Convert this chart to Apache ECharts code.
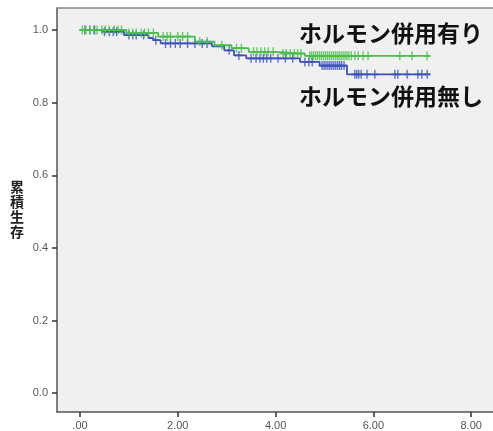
<!DOCTYPE html>
<html>
<head>
<meta charset="utf-8">
<script src="https://cdn.jsdelivr.net/npm/echarts@6/dist/echarts.min.js"></script>
<style>html,body{margin:0;padding:0;background:#fff}#c{width:493px;height:431px}</style>
</head>
<body>
<div id="c"></div>
<script>
// Kaplan-Meier step points [time, survival]
const withHormoneSteps = [[0,1.0],[0.95,0.992],[1.6,0.982],[2.35,0.968],[2.75,0.958],[3.1,0.950],[3.45,0.940],[4.0,0.935],[4.6,0.929],[7.16,0.929]];
const withoutHormoneSteps = [[0,1.0],[0.4,0.995],[0.9,0.986],[1.4,0.978],[1.5,0.972],[1.65,0.963],[2.7,0.955],[2.95,0.944],[3.15,0.930],[3.4,0.922],[4.5,0.912],[4.9,0.902],[5.46,0.878],[7.16,0.878]];
// censor times
const withHormoneCensor = [0.05,0.12,0.2,0.28,0.35,0.45,0.52,0.6,0.7,0.78,0.85,1.0,1.08,1.15,1.25,1.32,1.4,1.5,1.7,1.78,1.85,2.0,2.1,2.2,2.45,2.6,2.9,3.2,3.3,3.55,3.62,3.7,3.78,3.85,3.95,4.15,4.22,4.3,4.38,4.45,4.52,4.7,4.74,4.78,4.82,4.86,4.9,4.94,4.98,5.02,5.06,5.1,5.14,5.18,5.22,5.26,5.3,5.34,5.38,5.42,5.46,5.5,5.55,5.62,5.69,5.79,5.89,6.54,6.79,7.10];
const withoutHormoneCensor = [0.1,0.2,0.3,0.5,0.6,0.68,0.75,1.0,1.08,1.15,1.3,1.55,1.75,1.85,1.95,2.05,2.2,2.35,2.5,2.6,3.05,3.25,3.5,3.6,3.68,3.75,3.82,3.9,4.05,4.2,4.35,4.6,4.68,4.75,4.95,4.99,5.03,5.07,5.11,5.15,5.19,5.23,5.27,5.31,5.35,5.4,5.62,5.66,5.7,5.75,5.87,6.03,6.44,6.50,6.69,6.91,6.99,7.10];
const xTicks = [0,2,4,6,8];
const yTicks = [0,0.2,0.4,0.6,0.8,1.0];
const labelWith = 'ホルモン併用有り';
const labelWithout = 'ホルモン併用無し';
const yTitle = '累積生存';

function stepValue(steps, t){
  let v = steps[0][1];
  for (const [x,y] of steps){ if (x <= t) v = y; }
  return v;
}
const green = '#48bd4e', blue = '#3f52b8';
const plusPath = 'path://M4,0 H6 V4 H10 V6 H6 V10 H4 V6 H0 V4 H4 Z';

const chart = echarts.init(document.getElementById('c'));
chart.setOption({
  animation:false,
  backgroundColor:'#fff',
  grid:{left:57, top:8, right:0, bottom:19, show:true, backgroundColor:'#f0f0f0', borderWidth:0},
  xAxis:[{
    type:'value', min:-0.47, max:8.446,
    axisLine:{show:true, onZero:false, lineStyle:{color:'#555', width:1.5}},
    axisTick:{show:true, length:5, customValues:xTicks, lineStyle:{color:'#333', width:1.5}},
    axisLabel:{customValues:xTicks, color:'#555', fontSize:11, fontFamily:'Liberation Sans', margin:8,
      formatter:v=> v===0 ? '.00' : v.toFixed(2)},
    splitLine:{show:false}
  },{
    type:'value', position:'top', min:-0.47, max:8.446,
    axisLine:{show:true, onZero:false, lineStyle:{color:'#888', width:1.5}},
    axisTick:{show:false}, axisLabel:{show:false}, splitLine:{show:false}
  }],
  yAxis:{
    type:'value', min:-0.052, max:1.0606,
    axisLine:{show:true, onZero:false, lineStyle:{color:'#555', width:1.5}},
    axisTick:{show:true, length:5, customValues:yTicks, lineStyle:{color:'#333', width:1.5}},
    axisLabel:{customValues:yTicks, color:'#555', fontSize:11, fontFamily:'Liberation Sans', margin:9,
      formatter:v=>v.toFixed(1)},
    splitLine:{show:false}
  },
  graphic:[
    {type:'text', left:299, top:22, style:{text:labelWith, font:'bold 23px "Noto Sans CJK JP"', fill:'#111'}},
    {type:'text', left:299, top:85, style:{text:labelWithout, font:'bold 23px "Noto Sans CJK JP"', fill:'#111'}},
    {type:'text', left:10, top:179, style:{text:yTitle.split('').join('\n'), font:'bold 14px "Noto Sans CJK JP"', fill:'#222', lineHeight:15}}
  ],
  series:[
    {type:'line', step:'end', data:withoutHormoneSteps, showSymbol:false, lineStyle:{color:blue, width:1.8}, z:2},
    {type:'line', step:'end', data:withHormoneSteps, showSymbol:false, lineStyle:{color:green, width:1.8}, z:3},
    {type:'scatter', data:withoutHormoneCensor.map(t=>[t, stepValue(withoutHormoneSteps,t)]), symbol:plusPath, symbolSize:[7,9], itemStyle:{color:blue}, z:2},
    {type:'scatter', data:withHormoneCensor.map(t=>[t, stepValue(withHormoneSteps,t)]), symbol:plusPath, symbolSize:[7,9], itemStyle:{color:green}, z:3}
  ]
});
</script>
</body>
</html>
